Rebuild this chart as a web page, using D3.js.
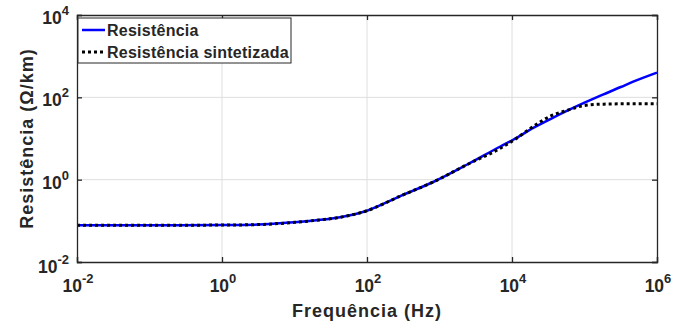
<!DOCTYPE html>
<html>
<head>
<meta charset="utf-8">
<script src="https://cdn.jsdelivr.net/npm/d3@7"></script>
<style>
  body { margin: 0; background: #fff; }
  text { font-family: "Liberation Sans", Arial, sans-serif; font-weight: bold; fill: #262626; }
</style>
</head>
<body>
<div id="chart"></div>
<script>
// data (Hz, ohm/km)
const freqR = [1e-2, 1e-1, 1, 3.16, 10, 20, 42.7, 100, 288, 832, 2455, 6918, 10233, 19953, 33900, 58884, 100000, 165959, 316228, 478630, 1e6]
const resist = [0.078, 0.078, 0.079, 0.081, 0.092, 0.103, 0.122, 0.176, 0.40, 0.89, 2.37, 6.4, 9.2, 18.3, 29.7, 48, 74, 110, 178, 243, 398]

const freqS = [1e-2, 1e-1, 1, 3.16, 10, 20, 42.7, 100, 288, 832, 2455, 6918, 10233, 19953, 33900, 58884, 97700, 165959, 478630, 1e6]
const synth = [0.078, 0.078, 0.079, 0.081, 0.092, 0.103, 0.122, 0.176, 0.40, 0.89, 2.37, 5.8, 8.8, 20, 35, 49, 63, 68, 70, 70]

const xTicks = [1e-2, 1, 1e2, 1e4, 1e6]
const yTicks = [1e-2, 1, 1e2, 1e4]
const legendNames = ["Resistência", "Resistência sintetizada"]

var margin = {top: 15, right: 28, bottom: 62, left: 77},
    width = 685 - margin.left - margin.right,
    height = 324 - margin.top - margin.bottom;

var svg = d3.select("#chart")
  .append("svg")
    .attr("width", 685)
    .attr("height", 324)
  .append("g")
    .attr("transform", "translate(" + margin.left + "," + margin.top + ")");

var x = d3.scaleLog().domain([1e-2, 1e6]).range([0, width])
var y = d3.scaleLog().domain([1e-2, 1e4]).range([height, 0])

// grid
svg.selectAll(".gx").data(xTicks.slice(1, -1)).enter().append("line")
    .attr("x1", d => x(d)).attr("x2", d => x(d))
    .attr("y1", 0).attr("y2", height)
    .style("stroke", "#dedede").style("stroke-width", 1)
svg.selectAll(".gy").data(yTicks.slice(1, -1)).enter().append("line")
    .attr("y1", d => y(d)).attr("y2", d => y(d))
    .attr("x1", 0).attr("x2", width)
    .style("stroke", "#dedede").style("stroke-width", 1)

// curves
var lineR = d3.line().x((d, i) => x(freqR[i])).y(d => y(d)).curve(d3.curveMonotoneX)
var lineS = d3.line().x((d, i) => x(freqS[i])).y(d => y(d)).curve(d3.curveMonotoneX)

svg.append("path").datum(resist)
    .attr("d", lineR)
    .style("fill", "none").style("stroke", "#0000ff").style("stroke-width", 2.5)
svg.append("path").datum(synth)
    .attr("d", lineS)
    .style("fill", "none").style("stroke", "#000").style("stroke-width", 3)
    .style("stroke-dasharray", "3,3")

// axes: ticks inward, box around
function fmt(d) { return Math.round(Math.log10(d)) }
svg.append("g").attr("transform", "translate(0," + height + ")")
    .call(d3.axisBottom(x).tickValues(xTicks).tickSize(-5).tickFormat(""))
svg.append("g").call(d3.axisTop(x).tickValues(xTicks).tickSize(-5).tickFormat(""))
svg.append("g").call(d3.axisLeft(y).tickValues(yTicks).tickSize(-5).tickFormat(""))
svg.append("g").attr("transform", "translate(" + width + ",0)")
    .call(d3.axisRight(y).tickValues(yTicks).tickSize(-5).tickFormat(""))
svg.selectAll(".domain").style("stroke", "#262626").style("stroke-width", 1.3)
svg.selectAll(".tick line").style("stroke", "#262626").style("stroke-width", 1.3)

// tick labels with superscripts
xTicks.forEach(function(d) {
  var t = svg.append("text")
      .attr("x", x(d) + 1).attr("y", height + 30)
      .attr("text-anchor", "middle")
      .style("font-size", "17.5px")
  t.append("tspan").text("10")
  t.append("tspan").attr("dy", -9).style("font-size", "13px").text(fmt(d))
})
yTicks.forEach(function(d, i) {
  var t = svg.append("text")
      .attr("x", -8).attr("y", y(d) + (i == 0 ? 11 : 9))
      .attr("text-anchor", "end")
      .style("font-size", "17.5px")
  t.append("tspan").text("10")
  t.append("tspan").attr("dy", -9).style("font-size", "13px").text(fmt(d))
})

// axis titles
svg.append("text")
    .attr("x", width / 2).attr("y", height + 55)
    .attr("text-anchor", "middle")
    .style("font-size", "18px").style("letter-spacing", "1px")
    .text("Frequência (Hz)")
svg.append("text")
    .attr("transform", "translate(-44," + (height / 2) + ") rotate(-90)")
    .attr("text-anchor", "middle")
    .style("font-size", "18px").style("letter-spacing", "1px")
    .text("Resistência (Ω/km)")

// legend
var leg = svg.append("g").attr("transform", "translate(1,3)")
leg.append("rect")
    .attr("width", 213).attr("height", 45)
    .style("fill", "#fff").style("stroke", "#262626").style("stroke-width", 1)
var styles = [{c: "#0000ff", w: 2.5, dash: null}, {c: "#000", w: 3, dash: "3,3"}]
legendNames.forEach(function(n, i) {
  leg.append("line")
      .attr("x1", 4).attr("x2", 27)
      .attr("y1", 12 + i * 22).attr("y2", 12 + i * 22)
      .style("stroke", styles[i].c).style("stroke-width", styles[i].w)
      .style("stroke-dasharray", styles[i].dash)
  leg.append("text")
      .attr("x", 29).attr("y", 18 + i * 22)
      .style("font-size", "16px").style("letter-spacing", "0.25px")
      .text(n)
})
</script>
</body>
</html>
